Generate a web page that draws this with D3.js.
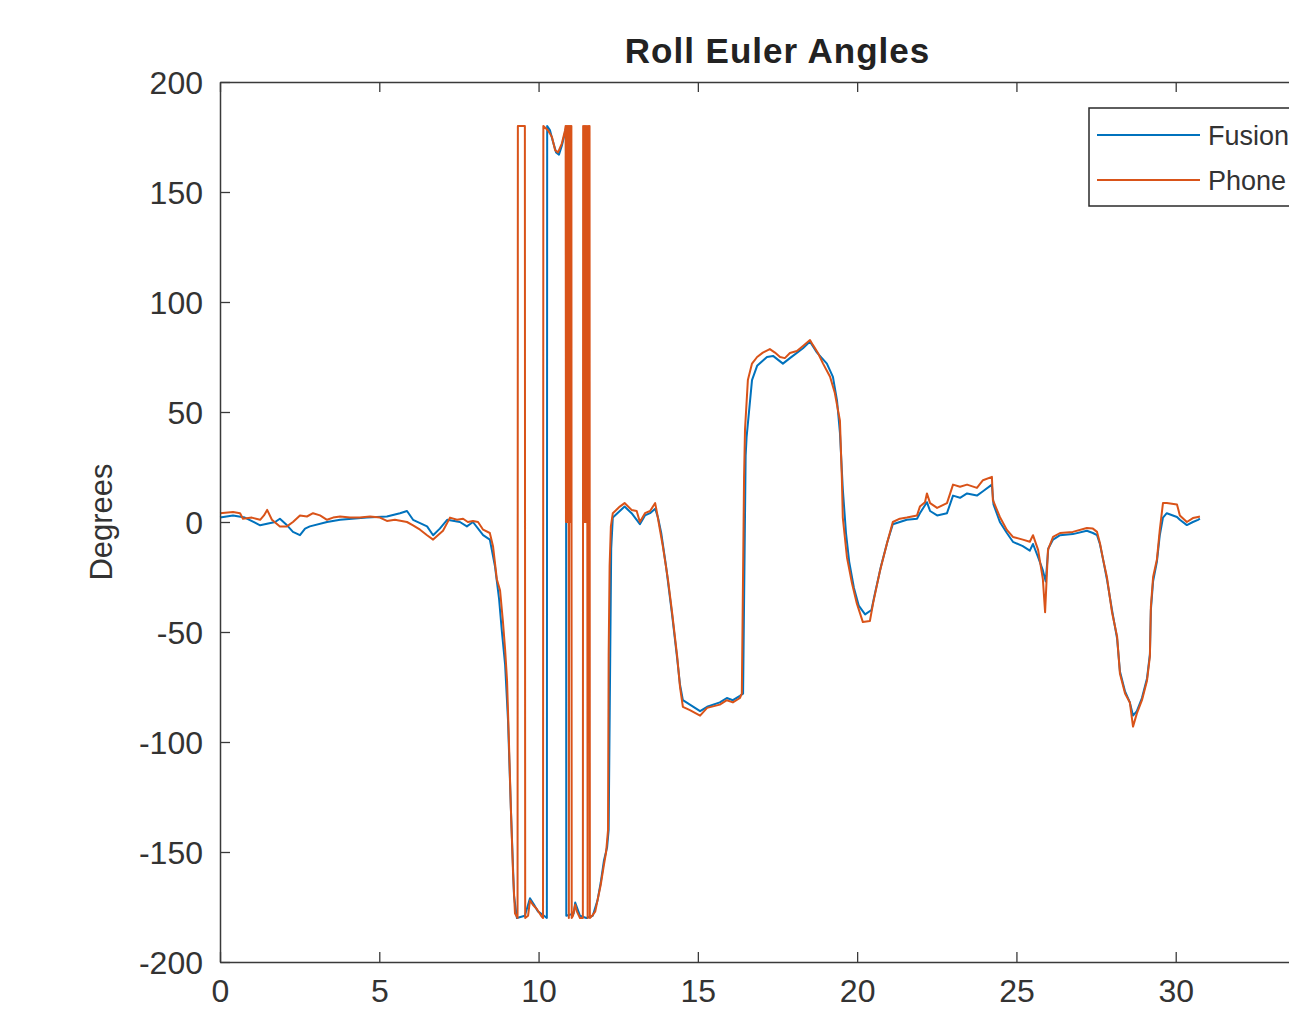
<!DOCTYPE html>
<html>
<head>
<meta charset="utf-8">
<script src="https://cdn.jsdelivr.net/npm/d3@7"></script>
<style>
  body { margin: 0; background: #fff; }
  svg { display: block; font-family: "Liberation Sans", Arial, sans-serif; }
</style>
</head>
<body>
<div id="rollPlot"></div>
<script>
// Series: [time (s), roll (degrees)]
const fusionRoll = [
  [0, 2], [0.41, 3], [0.78, 2], [1.26, -1.5], [1.73, 0], [1.88, 1.5], [2.07, -1], [2.29, -4.5],
  [2.51, -6], [2.67, -3], [2.82, -2], [3.36, 0], [3.77, 1], [4.61, 2], [5.24, 2.5], [5.65, 4],
  [5.87, 5], [6.06, 1], [6.5, -2], [6.69, -6], [6.9, -3], [7.13, 1], [7.53, 0], [7.75, -2],
  [7.94, 0], [8.26, -6], [8.47, -8], [8.63, -20], [8.76, -35], [8.85, -50], [8.95, -65],
  [9.04, -90], [9.13, -130], [9.23, -170], [9.32, -180], [9.57, -179], [9.73, -171],
  [9.86, -174], [9.98, -177], [10.17, -179], [10.26, -180], [10.27, 180], [10.36, 178],
  [10.45, 173], [10.55, 168], [10.64, 167], [10.73, 171], [10.83, 177], [10.86, 179],
  [10.87, -179], [11.1, -178], [11.15, -173], [11.3, -179], [11.5, -180], [11.7, -179],
  [11.85, -172], [11.95, -164], [12.05, -154], [12.15, -148], [12.2, -140], [12.25, -60],
  [12.28, -12], [12.33, 2], [12.55, 5], [12.7, 7], [12.92, 4], [13.18, -1], [13.34, 3],
  [13.5, 4], [13.66, 6], [13.75, 2], [13.85, -5], [14.0, -20], [14.19, -42], [14.35, -62],
  [14.44, -74], [14.53, -81], [14.75, -83], [15.07, -86], [15.29, -84], [15.69, -82],
  [15.91, -80], [16.1, -81], [16.32, -79], [16.42, -78], [16.5, 30], [16.53, 38.6],
  [16.7, 64.5], [16.86, 71], [17.17, 75], [17.36, 75.5], [17.67, 72], [17.89, 74.5],
  [18.3, 79], [18.52, 82], [18.74, 77], [19.05, 72], [19.24, 66], [19.37, 55], [19.46, 40.5],
  [19.55, 15], [19.65, -5], [19.75, -18], [19.9, -30], [20.05, -38], [20.25, -42],
  [20.45, -40], [20.55, -33], [20.75, -20], [20.95, -9], [21.12, -1], [21.34, 0], [21.56, 1],
  [21.88, 1.5], [21.97, 4], [22.19, 9], [22.29, 5], [22.51, 3], [22.82, 4], [23.01, 12],
  [23.23, 11], [23.45, 13], [23.76, 12], [23.95, 14], [24.23, 17], [24.28, 8], [24.48, 0],
  [24.7, -5], [24.89, -9], [25.2, -11], [25.42, -13], [25.52, -10], [25.68, -16],
  [25.83, -22], [25.92, -27], [26.0, -12], [26.15, -8], [26.37, -6], [26.77, -5.5],
  [27.21, -4], [27.4, -5], [27.53, -6], [27.62, -10], [27.72, -17], [27.84, -26], [28.0, -40],
  [28.16, -53], [28.25, -68], [28.41, -77], [28.56, -82], [28.66, -88], [28.78, -86],
  [28.94, -80], [29.1, -71], [29.19, -60], [29.22, -40], [29.29, -27], [29.41, -18],
  [29.5, -6], [29.6, 2], [29.72, 4], [30.04, 2.3], [30.13, 1], [30.35, -1.4], [30.54, 0],
  [30.7, 1], [30.76, 1.5]
];

const phoneRoll = [
  [0, 4], [0.41, 4.5], [0.63, 4], [0.72, 1.5], [1.0, 2], [1.26, 1], [1.38, 3], [1.48, 5.5],
  [1.63, 1], [1.88, -2], [2.1, -2], [2.29, 0], [2.51, 3], [2.73, 2.5], [2.92, 4], [3.14, 3],
  [3.36, 1], [3.55, 2], [3.77, 2.5], [4.08, 2], [4.39, 2], [4.71, 2.5], [5.02, 2], [5.24, 0.5],
  [5.49, 1], [5.87, 0], [6.06, -1.5], [6.28, -3.5], [6.5, -6], [6.69, -8], [6.84, -6],
  [7.0, -4], [7.22, 2], [7.44, 1], [7.63, 1.5], [7.78, 0], [7.94, 0.5], [8.1, 0], [8.26, -3.5],
  [8.47, -5], [8.57, -11], [8.69, -26], [8.79, -31], [8.88, -45], [8.95, -58], [9.01, -72],
  [9.07, -100], [9.13, -130], [9.2, -160], [9.26, -178], [9.34, -180], [9.35, 180],
  [9.57, 180], [9.58, -180], [9.67, -179], [9.73, -172], [9.82, -174], [9.95, -176],
  [10.08, -179], [10.14, -180], [10.15, 180], [10.3, 178], [10.42, 175], [10.52, 169],
  [10.61, 168], [10.73, 172], [10.83, 178], [10.85, 180], [10.86, 0], [10.88, 180],
  [10.89, 0], [10.91, 180], [10.92, 0], [10.94, 180], [10.95, -180], [10.97, 180], [10.99, 0],
  [11.0, 180], [11.02, 0], [11.03, 180], [11.04, -180], [11.08, -179], [11.15, -174],
  [11.2, -177], [11.3, -180], [11.39, -180], [11.4, 180], [11.42, 0], [11.44, 180],
  [11.46, 0], [11.48, 180], [11.5, 0], [11.52, 180], [11.54, -180], [11.56, 180], [11.58, 0],
  [11.6, 180], [11.61, -180], [11.68, -179], [11.78, -177], [11.85, -172], [11.95, -165],
  [12.05, -156], [12.12, -150], [12.18, -140], [12.2, -60], [12.23, -20], [12.27, -2],
  [12.33, 4], [12.55, 7], [12.7, 8.6], [12.92, 5.5], [13.08, 5], [13.18, 0], [13.34, 4],
  [13.5, 5], [13.66, 8.6], [13.72, 4], [13.81, -3.6], [13.9, -11], [14.06, -26], [14.19, -41],
  [14.35, -61], [14.44, -75], [14.53, -84], [14.75, -85.5], [15.07, -88], [15.29, -84.5],
  [15.69, -83], [15.91, -81], [16.1, -82], [16.32, -80], [16.38, -78], [16.45, 20],
  [16.48, 42], [16.57, 64.5], [16.7, 72], [16.86, 75], [17.04, 77], [17.26, 78.6],
  [17.42, 77], [17.58, 75], [17.73, 74.5], [17.89, 76.8], [18.11, 77.7], [18.3, 80],
  [18.52, 82.7], [18.61, 80.5], [18.77, 76.8], [18.93, 72], [19.15, 66], [19.3, 58.6],
  [19.46, 46], [19.52, 20], [19.55, 2], [19.68, -16], [19.84, -28], [19.99, -37],
  [20.18, -45.5], [20.4, -45], [20.5, -37], [20.72, -22], [20.94, -9.5], [21.12, 0],
  [21.34, 1.5], [21.56, 2], [21.88, 3], [21.97, 7], [22.13, 9], [22.19, 13], [22.29, 8.6],
  [22.51, 6.4], [22.82, 8.6], [23.01, 17], [23.23, 16], [23.45, 17], [23.76, 15.5],
  [23.95, 19], [24.23, 20.5], [24.26, 10], [24.48, 2.3], [24.7, -3.6], [24.89, -6.8],
  [25.2, -8], [25.42, -9], [25.52, -6], [25.68, -12.7], [25.83, -26], [25.9, -41],
  [25.99, -12.7], [26.15, -6.8], [26.37, -5], [26.77, -4.5], [27.21, -2.7], [27.4, -3],
  [27.53, -4.5], [27.62, -9.5], [27.72, -17], [27.84, -25], [28.0, -41], [28.16, -52],
  [28.25, -69], [28.41, -78], [28.56, -82], [28.66, -93], [28.78, -87], [28.94, -81],
  [29.1, -72], [29.19, -61], [29.22, -38.6], [29.29, -25], [29.41, -17], [29.5, -3.6],
  [29.6, 8.6], [29.72, 8.6], [30.04, 8], [30.13, 3], [30.35, 0], [30.54, 1.8], [30.7, 2.3],
  [30.76, 2.5]
];

const seriesNames = ['Fusion', 'Phone'];
const seriesColors = ['#0072BD', '#D95319'];
const xTicks = [0, 5, 10, 15, 20, 25, 30, 35];
const yTicks = [-200, -150, -100, -50, 0, 50, 100, 150, 200];

const outerWidth = 1289;
const outerHeight = 1017;
const margin = { left: 220, top: 82 };
const innerWidth = 1115;
const innerHeight = 880;

const xValue = d => d[0];
const yValue = d => d[1];

const svg = d3.select('#rollPlot')
    .append('svg')
    .attr('width', outerWidth)
    .attr('height', outerHeight);

const xScale = d3.scaleLinear()
    .domain([0, 35])
    .range([0, innerWidth]);
const yScale = d3.scaleLinear()
    .domain([-200, 200])
    .range([innerHeight, 0]);

const plotG = svg.append('g')
    .attr('transform', 'translate(' + margin.left + ',' + margin.top + ')');

const line = d3.line()
    .x(d => xScale(xValue(d)))
    .y(d => yScale(yValue(d)));

[fusionRoll, phoneRoll].forEach((series, i) => {
    plotG.append('path')
        .datum(series)
        .attr('fill', 'none')
        .attr('stroke', seriesColors[i])
        .attr('stroke-width', 2)
        .attr('stroke-linejoin', 'round')
        .attr('d', line);
});

// axes, ticks pointing inward like MATLAB; plain hyphen for negatives
const axisColor = '#3a3a3a';
const plainFormat = d => String(d);
const xAxis = d3.axisBottom(xScale).tickValues(xTicks).tickFormat(plainFormat)
    .tickSizeInner(-10).tickSizeOuter(0).tickPadding(17);
const xAxisTop = d3.axisTop(xScale).tickValues(xTicks).tickSizeInner(-10).tickSizeOuter(0).tickFormat('');
const yAxis = d3.axisLeft(yScale).tickValues(yTicks).tickFormat(plainFormat)
    .tickSizeInner(-10).tickSizeOuter(0).tickPadding(17);
const yAxisRight = d3.axisRight(yScale).tickValues(yTicks).tickSizeInner(-10).tickSizeOuter(0).tickFormat('');

const xAxisG = plotG.append('g').attr('transform', 'translate(0,' + innerHeight + ')').call(xAxis);
const xAxisTopG = plotG.append('g').call(xAxisTop);
const yAxisG = plotG.append('g').call(yAxis);
const yAxisRightG = plotG.append('g').attr('transform', 'translate(' + innerWidth + ',0)').call(yAxisRight);

[xAxisG, xAxisTopG, yAxisG, yAxisRightG].forEach(g => {
    g.select('.domain').attr('stroke', axisColor).attr('stroke-width', 1.5);
    g.selectAll('.tick line').attr('stroke', axisColor).attr('stroke-width', 1.3);
    g.selectAll('.tick text')
        .attr('fill', '#333')
        .style('font-size', '32px')
        .style('font-family', '"Liberation Sans", Arial, sans-serif');
});
yAxisG.selectAll('.tick text').attr('dy', '0.36em');

// title and axis label
svg.append('text')
    .attr('x', margin.left + innerWidth / 2)
    .attr('y', 63)
    .attr('text-anchor', 'middle')
    .attr('fill', '#222')
    .style('font-size', '35px')
    .style('font-weight', 'bold')
    .style('letter-spacing', '1px')
    .text('Roll Euler Angles');

svg.append('text')
    .attr('transform', 'translate(112,' + (margin.top + innerHeight / 2) + ') rotate(-90)')
    .attr('text-anchor', 'middle')
    .attr('fill', '#333')
    .style('font-size', '31px')
    .text('Degrees');

// legend
const legendG = svg.append('g').attr('transform', 'translate(1089,108)');
legendG.append('rect')
    .attr('width', 260)
    .attr('height', 98)
    .attr('fill', '#fff')
    .attr('stroke', '#2a2a2a')
    .attr('stroke-width', 1.5);
seriesNames.forEach((name, i) => {
    const ly = 27 + i * 45;
    legendG.append('line')
        .attr('x1', 8).attr('x2', 111)
        .attr('y1', ly).attr('y2', ly)
        .attr('stroke', seriesColors[i])
        .attr('stroke-width', 2);
    legendG.append('text')
        .attr('x', 119)
        .attr('y', ly + 10)
        .attr('fill', '#333')
        .style('font-size', '27px')
        .text(name);
});
</script>
</body>
</html>
